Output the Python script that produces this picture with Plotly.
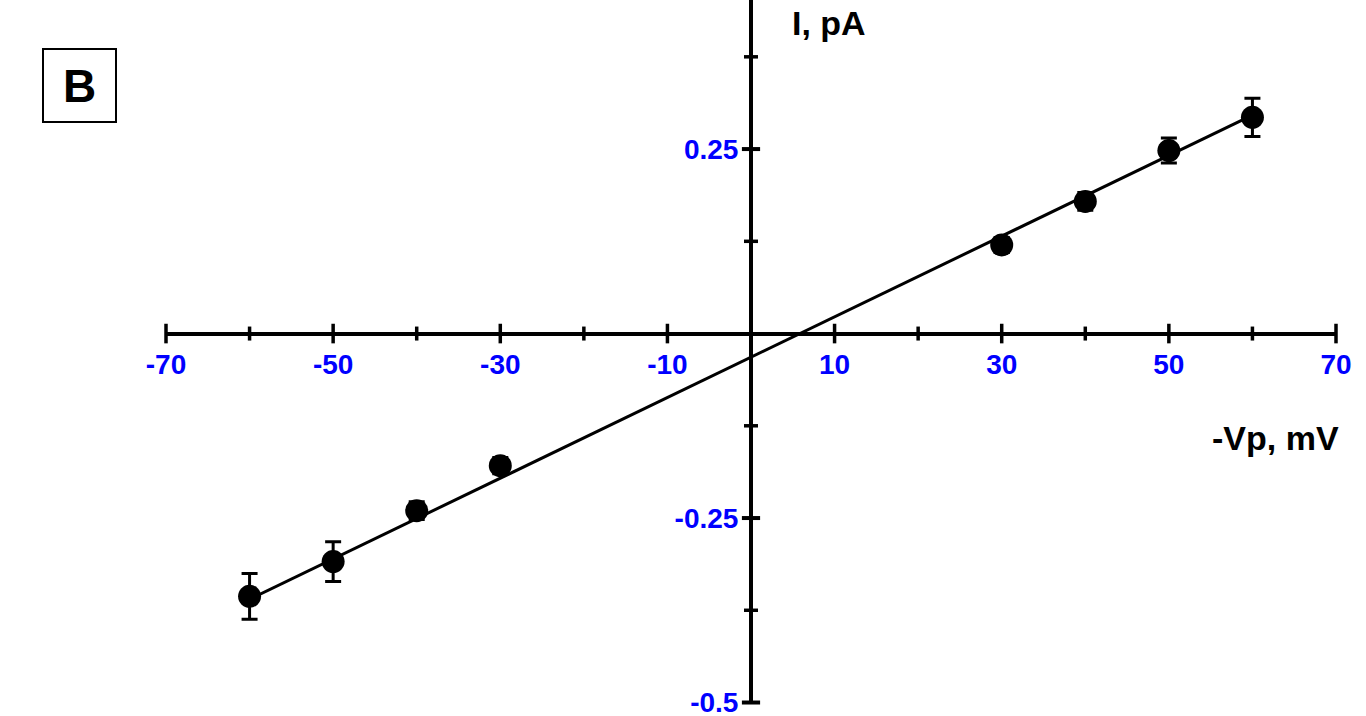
import plotly.graph_objects as go

# datos (I-V)
voltaje = [-60, -50, -40, -30, 30, 40, 50, 60]
corriente = [-0.356, -0.309, -0.240, -0.179, 0.120, 0.179, 0.248, 0.293]
error = [0.031, 0.027, 0.012, 0.011, 0.010, 0.012, 0.017, 0.026]

# recta de ajuste (extremos)
ajuste_x = [-60, 60]
ajuste_y = [-0.360, 0.296]

# ticks
x_mayores = [-70, -50, -30, -10, 10, 30, 50, 70]
x_menores = [-60, -40, -20, 0, 20, 40, 60]
y_mayores = [0.25, -0.25, -0.5]
y_menores = [0.375, 0.125, -0.125, -0.375]
y_etiquetas = ["0.25", "-0.25", "-0.5"]

x_rango = [-70, 70]
y_rango = [-0.502, 0.452]

fuente = "Arial, Liberation Sans, sans-serif"
azul = "#0000ff"

fig = go.Figure()

# marcas de los ejes (cruzan la linea)
def marcas(xs, ys, simbolo, tam, grosor):
    fig.add_trace(go.Scatter(
        x=xs, y=ys, mode="markers",
        marker=dict(symbol=simbolo, size=tam, color="black",
                    line=dict(width=grosor, color="black")),
        hoverinfo="skip", showlegend=False, cliponaxis=False))

marcas(x_mayores, [0] * len(x_mayores), "line-ns-open", 14, 3.5)
marcas(x_menores, [0] * len(x_menores), "line-ns-open", 10, 3.5)
marcas([0] * len(y_mayores), y_mayores, "line-ew-open", 13, 4)
marcas([0] * len(y_menores), y_menores, "line-ew-open", 10, 3.5)

# recta
fig.add_trace(go.Scatter(
    x=ajuste_x, y=ajuste_y, mode="lines",
    line=dict(color="black", width=3), showlegend=False))

# puntos con barras de error
fig.add_trace(go.Scatter(
    x=voltaje, y=corriente, mode="markers",
    marker=dict(size=23, color="black"),
    error_y=dict(type="data", array=error, color="black", thickness=3, width=8),
    showlegend=False))

pos_x = (0 - y_rango[0]) / (y_rango[1] - y_rango[0])
pos_y = (0 - x_rango[0]) / (x_rango[1] - x_rango[0])

fig.update_xaxes(
    range=x_rango, anchor="free", position=pos_x,
    showline=True, linecolor="black", linewidth=4,
    showgrid=False, zeroline=False,
    tickmode="array", tickvals=x_mayores, ticktext=[str(v) for v in x_mayores],
    ticks="", ticklabelstandoff=5, ticklabeloverflow="allow",
    tickfont=dict(family=fuente, size=28, color=azul, weight="bold"),
)
fig.update_yaxes(
    range=y_rango, anchor="free", position=pos_y,
    showline=True, linecolor="black", linewidth=4,
    showgrid=False, zeroline=False,
    tickmode="array", tickvals=y_mayores, ticktext=y_etiquetas,
    ticks="", ticklabelstandoff=5, ticklabeloverflow="allow",
    tickfont=dict(family=fuente, size=28, color=azul, weight="bold"),
)

fig.add_annotation(x=9.3, y=0.421, xref="x", yref="y", text="<b>I, pA</b>",
                   showarrow=False, font=dict(family=fuente, size=34, color="black"))
fig.add_annotation(x=62.8, y=-0.141, xref="x", yref="y", text="<b>-Vp, mV</b>",
                   showarrow=False, font=dict(family=fuente, size=34, color="black"))
fig.add_annotation(x=-0.1056, y=0.9325, xref="paper", yref="paper", text="<b>B</b>",
                   showarrow=False, width=71, height=71, borderpad=0,
                   bordercolor="black", borderwidth=2,
                   font=dict(family=fuente, size=46, color="black"))

fig.update_layout(
    width=1366, height=716,
    margin=dict(l=166, r=30, t=0, b=12, autoexpand=False),
    paper_bgcolor="white", plot_bgcolor="white",
)

# sin margen del body para que la figura empiece en (0, 0)
fig.write_html("out.html", config={"displayModeBar": False},
               post_script="document.body.style.margin = '0';")
